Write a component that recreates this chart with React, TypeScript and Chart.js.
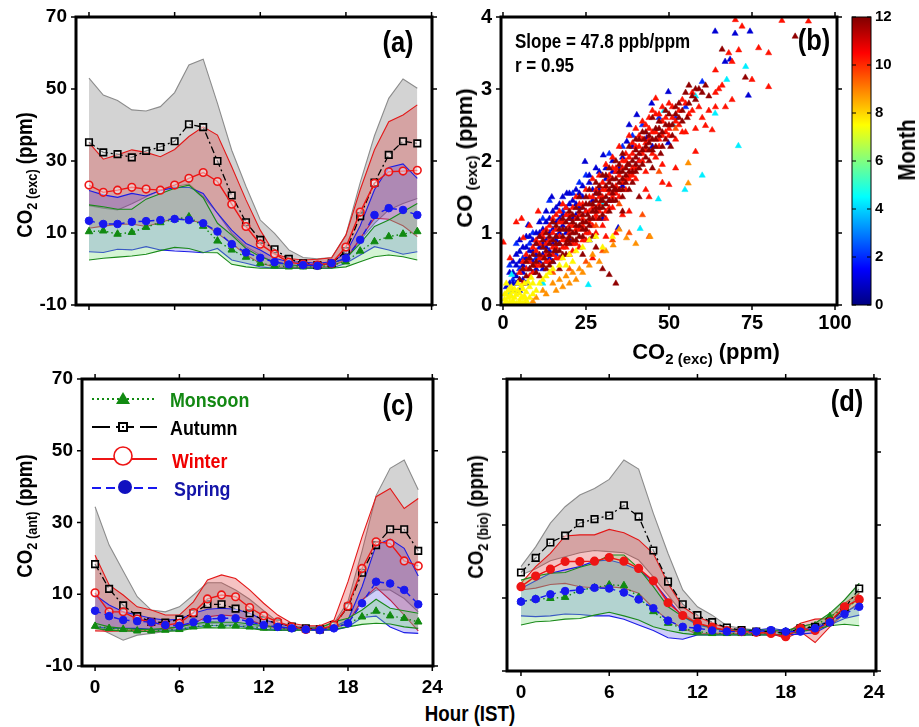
import React, { useEffect, useRef } from "react";
import { Chart, registerables } from "chart.js";
Chart.register(...registerables);

const FONT = "'Liberation Sans', Arial, sans-serif";

// ---------- shared axes ----------
const HOURS = [0,1,2,3,4,5,6,7,8,9,10,11,12,13,14,15,16,17,18,19,20,21,22,23];
const HOUR_TICKS = [0, 6, 12, 18, 24];
const PPM_TICKS = [-10, 10, 30, 50, 70];
const CO2_TICKS = [0, 25, 50, 75, 100];
const CO_TICKS = [0, 1, 2, 3, 4];
const MONTH_TICKS = [0, 2, 4, 6, 8, 10, 12];

// ---------- panel (a) CO2(exc) ----------
const A_AUT_MEAN = [35.2,32.4,31.9,31.0,32.8,33.9,35.5,40.2,39.4,30.0,20.4,13.0,8.1,5.5,2.8,1.6,1.1,1.6,5.0,14.7,24.0,31.7,35.5,34.9];
const A_AUT_HI = [53.0,48.3,46.8,44.2,43.9,45.1,49.0,56.7,58.3,46.0,33.0,22.9,13.6,9.9,5.3,3.2,2.8,3.2,9.5,24.0,37.0,47.4,52.8,50.2];
const A_AUT_LO = [17.6,16.9,16.4,18.1,20.1,21.9,22.9,23.6,20.1,15.5,9.9,6.2,3.9,1.6,0.6,0.5,0.5,0.8,2.5,8.0,12.7,16.4,18.2,19.6];
const A_WIN_MEAN = [23.3,21.3,21.9,22.7,22.2,21.9,23.3,25.2,26.8,24.3,18.0,11.8,6.9,4.2,1.9,1.3,1.1,1.6,6.1,15.8,23.8,27.0,27.2,27.4];
const A_WIN_HI = [35.1,30.5,31.7,33.1,32.4,31.2,33.2,36.8,39.5,37.2,28.4,19.2,10.8,4.3,2.9,2.5,2.7,3.1,9.4,22.0,33.1,40.9,42.8,45.6];
const A_WIN_LO = [11.3,11.9,12.4,12.5,11.8,12.9,14.1,13.6,12.7,9.9,7.1,3.9,1.6,0.6,0.4,0.4,0.4,0.6,2.7,8.5,14.1,13.8,12.0,9.0];
const A_SPR_MEAN = [13.4,12.5,12.5,13.1,13.3,13.6,13.9,13.6,12.7,10.4,6.9,4.6,3.1,1.9,1.3,1.1,0.9,1.6,3.0,8.1,15.0,16.9,16.4,15.0];
const A_SPR_HI = [21.8,20.6,19.9,21.0,20.3,21.8,22.6,22.7,21.0,15.5,10.8,7.1,5.3,3.0,2.0,1.9,1.6,2.0,4.4,12.0,22.0,28.2,29.2,25.2];
const A_SPR_LO = [4.8,4.6,5.5,5.3,6.2,5.3,5.0,4.8,4.5,5.7,2.5,1.6,0.6,0.2,0.2,0.2,0.2,0.2,1.6,3.9,6.2,5.3,4.1,4.8];
const A_MON_MEAN = [10.4,10.6,9.7,10.2,11.6,12.9,13.8,14.5,11.9,7.8,5.3,3.3,1.6,0.9,0.6,0.6,0.6,1.1,2.0,5.0,7.6,9.0,9.7,10.4];
const A_MON_HI = [17.8,17.3,16.6,16.6,19.4,20.9,22.4,23.3,19.8,12.7,9.4,5.7,3.4,2.0,1.1,0.9,0.9,1.6,3.0,7.1,11.8,13.6,15.9,18.2];
const A_MON_LO = [2.5,3.0,3.3,3.6,4.1,5.1,6.0,5.7,4.6,4.5,1.3,0.6,0.2,0.2,0.2,0.2,0.2,0.2,0.6,2.0,3.4,3.9,3.4,2.5];

// ---------- panel (c) CO2(ant) ----------
const C_AUT_MEAN = [18.4,11.5,6.9,3.9,2.3,2.1,3.0,4.7,7.2,7.2,6.0,4.7,2.8,1.9,1.0,0.5,0.2,1.4,6.5,16.0,23.7,28.1,28.1,22.1];
const C_AUT_HI = [34.4,23.7,16.5,9.3,5.6,5.1,6.5,9.8,13.2,13.2,11.2,8.6,5.4,2.3,1.2,0.9,0.9,1.9,8.0,22.0,37.5,45.1,47.4,39.1];
const C_AUT_LO = [1.0,-0.9,-2.8,-1.4,-0.9,-0.4,0.0,1.4,1.9,1.7,1.6,1.2,0.9,0.3,0.3,0.3,0.3,0.9,1.9,8.4,11.2,11.2,8.8,5.1];
const C_WIN_MEAN = [10.4,5.1,5.1,3.1,2.2,1.4,1.9,4.9,8.7,9.8,9.3,6.3,4.0,2.3,0.9,0.2,0.2,1.4,6.7,17.2,24.6,24.2,19.3,17.9];
const C_WIN_HI = [20.9,12.6,9.8,6.5,5.6,4.2,4.2,7.9,14.0,15.4,14.4,11.2,7.5,4.2,1.9,1.2,1.2,2.8,13.5,26.0,37.2,39.5,33.9,36.7];
const C_WIN_LO = [-0.2,-0.3,-0.2,0.0,0.0,0.2,0.9,1.9,3.7,4.2,3.9,2.8,1.4,0.5,0.3,0.3,0.3,0.5,1.9,8.4,11.9,8.4,4.2,-0.2];
const C_SPR_MEAN = [5.4,3.9,2.8,2.5,2.2,1.4,1.2,2.2,3.1,3.3,3.3,2.3,1.4,0.9,0.5,0.2,0.0,0.5,1.9,7.5,13.5,13.0,11.2,7.2];
const C_SPR_HI = [9.8,7.0,5.1,4.2,3.3,2.8,3.0,4.7,5.8,6.1,5.8,4.7,2.8,1.9,0.9,0.5,0.5,0.9,2.8,12.1,23.7,25.4,22.8,15.1];
const C_SPR_LO = [0.9,0.5,0.5,0.5,0.2,0.0,0.0,0.9,1.2,1.2,1.2,0.7,0.2,0.0,0.0,0.0,0.0,0.0,0.9,3.5,3.9,0.9,-0.7,-0.9];
const C_MON_MEAN = [1.1,0.5,0.2,-0.2,-0.2,0.0,0.2,0.9,1.4,1.2,1.2,0.9,0.6,0.5,0.3,0.3,0.3,0.9,1.9,3.7,5.3,4.0,3.3,2.3];
const C_MON_HI = [1.9,0.9,0.5,0.2,0.2,0.5,0.9,1.7,2.3,2.2,2.2,1.7,1.2,0.9,0.6,0.6,0.6,2.3,3.3,5.6,8.6,6.1,5.4,4.7];
const C_MON_LO = [0.5,0.0,-0.2,-0.4,-0.4,-0.3,-0.2,0.5,0.7,0.6,0.6,0.5,0.0,0.0,0.0,0.0,0.0,0.2,0.9,1.6,1.9,1.7,0.9,0.5];

// ---------- panel (d) CO2(bio) ----------
const D_AUT_MEAN = [17.0,21.0,25.2,27.1,30.5,31.6,32.6,35.4,32.3,23.0,14.5,8.3,5.3,3.4,1.9,1.2,0.8,0.8,0.3,1.7,2.1,3.5,7.2,12.6];
const D_AUT_HI = [18.6,24.0,30.5,35.0,38.2,40.0,42.5,47.8,45.3,33.2,22.2,12.2,7.6,5.3,2.4,1.7,1.2,1.1,0.8,2.1,3.1,5.3,9.5,14.0];
const D_AUT_LO = [16.3,18.0,20.2,21.3,22.4,23.0,22.7,22.4,20.4,15.8,10.8,5.8,3.1,1.7,1.0,0.9,0.8,0.8,0.8,1.1,1.2,2.6,5.8,11.3];
const D_WIN_MEAN = [13.1,16.0,17.9,20.0,20.0,20.1,21.1,20.1,18.1,14.7,8.7,5.2,3.1,2.0,1.1,0.8,0.6,0.3,-0.6,1.7,1.1,3.5,7.6,9.6];
const D_WIN_HI = [14.0,18.6,22.2,27.0,27.3,27.3,28.8,27.9,25.9,22.2,14.0,7.6,4.9,3.1,1.7,1.1,1.1,1.1,0.3,3.1,4.2,4.4,8.5,11.3];
const D_WIN_LO = [12.2,12.7,13.7,14.0,13.1,12.8,13.1,12.7,11.3,7.2,4.0,1.7,0.1,0.3,0.3,0.3,0.3,0.3,-1.1,0.8,-2.2,2.1,5.8,8.7];
const D_SPR_MEAN = [9.0,9.7,11.0,11.9,12.2,12.8,12.6,11.5,9.6,7.2,3.8,2.1,1.7,1.1,0.8,0.8,0.8,1.2,0.8,0.8,1.7,3.3,5.6,7.6];
const D_SPR_HI = [12.6,14.7,16.8,17.7,18.6,20.1,20.4,19.3,17.7,14.5,9.5,4.9,2.6,1.7,1.2,1.2,1.2,1.7,1.1,1.2,2.1,3.9,6.0,8.2];
const D_SPR_LO = [5.1,4.9,5.1,5.6,5.5,5.1,5.1,4.2,2.6,1.1,-0.9,-1.3,-0.1,-0.1,-0.1,-0.1,-0.1,-0.1,-0.1,0.1,0.5,2.6,4.4,5.3];
const D_MON_MEAN = [9.0,9.7,9.9,10.2,12.2,12.8,13.6,13.4,10.2,6.3,3.1,1.7,0.8,0.3,0.3,0.3,0.3,0.3,0.8,1.9,2.4,4.9,7.2,9.5];
const D_MON_HI = [14.9,16.0,16.8,17.0,18.4,19.5,21.8,21.8,18.1,13.1,7.6,4.9,3.1,1.7,1.2,1.2,1.2,1.2,1.1,2.1,3.1,5.8,9.5,14.0];
const D_MON_LO = [2.6,3.5,3.7,4.2,4.4,5.3,6.1,5.1,4.0,2.1,1.1,0.3,-0.1,-0.1,-0.1,-0.1,-0.1,-0.1,0.1,0.8,1.4,2.4,2.8,2.4];

// ---------- panel (b) CO(exc) vs CO2(exc), by month: [CO2 ppm, CO ppm] ----------
const SCATTER_M12 = [[8,0.5],[10,0.6],[12,0.55],[12,0.8],[14,0.7],[14,0.95],[15,0.6],[16,0.85],[16,1.1],[17,0.75],[18,0.95],[18,1.2],[19,0.7],[19,1.05],[20,0.85],[20,1.3],[21,1.0],[21,1.15],[22,0.9],[22,1.35],[23,1.1],[23,1.5],[24,0.95],[24,1.25],[25,1.4],[25,1.05],[26,1.2],[26,1.6],[27,1.3],[27,0.95],[28,1.45],[28,1.7],[29,1.2],[29,1.55],[30,1.35],[30,1.8],[31,1.5],[31,1.65],[32,1.3],[32,1.9],[33,1.55],[33,1.75],[34,1.45],[34,2.0],[35,1.7],[35,1.85],[36,1.6],[36,2.1],[37,1.8],[38,1.95],[38,2.2],[39,1.7],[40,2.05],[40,2.3],[41,1.9],[42,2.15],[43,2.4],[44,2.0],[44,2.25],[45,2.6],[46,2.3],[47,2.45],[48,2.2],[49,2.7],[50,2.5],[51,2.35],[52,2.65],[53,2.8],[54,2.55],[55,2.95],[56,3.05],[58,2.85],[59,3.0],[62,2.9],[10,0.85],[13,1.0],[9,0.7],[11,0.4],[34,0.3],[32,0.42],[30,0.5],[66,3.55],[73,3.16],[88,3.73],[58,3.0],[28,0.8],[36,1.3],[41,1.5],[17,0.5],[24,0.7],[45,1.9],[19.5,0.9],[22.5,1.2],[25.5,1.25],[29.5,1.45],[33.5,1.6],[37.5,1.95],[42.5,2.3],[47.5,2.1],[15.5,0.75],[12.5,0.65],[50.5,2.2],[55.5,2.6],
  [5,0.35],[6,0.5],[7,0.4],[7,0.6],[8,0.65],[9,0.55],[10,0.45],[11,0.7],[11,0.95],[12,0.9],[13,0.75],[13,0.5],[14,0.85],[14,0.55],[15,0.9],[15,1.15],[16,0.95],[16,0.75],[17,1.05],[17,0.85],[18,1.05],[18,0.7],[19,1.15],[19,0.85],[20,1.2],[20,0.95],[21,1.25],[21,0.9],[22,1.1],[22,1.0],[23,1.3],[23,0.95],[24,1.35],[24,1.05],[25,1.15],[25,1.5],[26,1.4],[26,1.1],[27,1.4],[27,1.2],[28,1.3],[28,1.55],[29,1.35],[29,1.65],[30,1.45],[30,1.25],[31,1.4],[31,1.8],[32,1.6],[32,1.45],[33,1.65],[33,1.45],[34,1.75],[34,1.6],[35,1.6],[35,1.95],[36,1.75],[36,1.5],[37,1.7],[37,1.9],[38,1.85],[38,1.6],[39,2.0],[39,1.85],[40,1.95],[40,2.15],[41,2.1],[41,2.3],[42,1.95],[42,2.4],[43,2.05],[43,2.2],[44,2.35],[45,2.3],[45,2.15],[46,2.45],[46,2.2],[47,2.55],[47,2.35],[48,2.4],[49,2.5],[49,2.3],[50,2.65],[51,2.5],[52,2.75],[53,2.6],[54,2.7],[56,2.8],[57,2.9],[60,2.95],[61,3.05],[20,1.05],[24,1.15],[28,1.35],[32,1.7],[36,1.85],[40,1.85],[44,2.15]];
const SCATTER_M11 = [[6,0.3],[7,0.5],[9,0.45],[10,0.75],[11,0.65],[12,0.95],[13,0.6],[13,0.85],[14,1.1],[15,0.8],[15,1.0],[16,0.65],[16,1.25],[17,0.95],[17,1.15],[18,0.8],[18,1.4],[19,0.9],[19,1.25],[20,1.1],[20,0.7],[21,1.35],[21,0.85],[22,1.05],[22,1.5],[23,1.25],[23,0.8],[24,1.4],[24,1.1],[25,1.6],[25,0.9],[26,1.3],[26,1.0],[27,1.5],[27,1.75],[28,1.2],[28,1.0],[29,1.4],[29,1.8],[30,1.6],[30,1.1],[31,1.3],[31,1.95],[32,1.55],[32,1.75],[33,1.35],[33,2.05],[34,1.65],[34,1.85],[35,1.5],[35,2.2],[36,1.9],[37,2.0],[37,1.6],[38,2.35],[38,1.75],[39,2.1],[39,1.9],[40,2.45],[40,1.75],[41,2.2],[42,2.0],[42,2.55],[43,1.85],[43,2.25],[44,2.45],[45,2.1],[46,2.65],[46,2.05],[47,2.3],[48,2.55],[48,1.95],[49,2.4],[50,2.8],[51,2.6],[52,2.3],[53,2.5],[54,2.85],[55,2.4],[57,2.7],[58,2.45],[60,2.6],[63,2.43],[61,2.49],[64,2.75],[67,2.75],[69,2.85],[70,3.96],[72,3.87],[84,3.95],[92,3.94],[80,3.5],[77,3.57],[80,3.03],[75,3.13],[71,3.54],[68,3.5],[69,3.38],[64,3.26],[65,3.0],[5.6,1.2],[6.1,0.93],[2.1,0.65],[10.6,1.3],[0.1,0.87],[4,1.15],[8,1.1],[46,2.87],[58,2.13],[50,1.67],[43,1.6],[34,1.0],[27,0.65],[38,1.3],[44,1.5],[52,1.9],[48,1.7],[36,1.25],[31,0.95],
  [5,0.45],[6,0.6],[7,0.7],[8,0.6],[8,0.4],[9,0.8],[9,0.55],[10,0.55],[10,0.9],[11,0.55],[11,0.85],[12,0.65],[12,1.0],[13,0.7],[13,1.05],[14,0.6],[14,0.9],[15,0.7],[15,1.2],[16,0.8],[16,1.05],[17,0.65],[17,1.3],[18,0.9],[18,1.15],[19,0.8],[19,1.35],[20,1.0],[20,1.25],[21,1.1],[21,0.75],[22,1.2],[22,0.85],[23,1.4],[23,1.05],[24,1.2],[24,0.9],[25,1.3],[25,1.0],[26,1.5],[26,1.15],[27,1.35],[27,1.1],[28,1.6],[28,1.25],[29,1.5],[29,1.3],[30,1.5],[30,1.7],[31,1.6],[31,1.2],[32,1.35],[32,1.8],[33,1.9],[33,1.5],[34,1.55],[34,1.9],[35,1.8],[35,1.6],[36,2.0],[36,1.7],[37,2.1],[37,1.75],[38,2.05],[38,1.8],[39,2.25],[39,1.8],[40,1.9],[40,2.2],[41,2.35],[41,2.0],[42,2.3],[42,2.1],[43,2.5],[43,2.15],[44,2.3],[44,2.6],[45,2.4],[45,2.7],[46,2.4],[47,2.65],[47,2.2],[48,2.35],[48,2.75],[49,2.6],[50,2.35],[50,2.45],[51,2.75],[52,2.55],[53,2.7],[54,2.4],[55,2.8],[56,2.65],[57,2.95],[59,2.75],[62,2.7],[64,2.95],[66,3.05]];
const SCATTER_M10 = [[20,0.5],[25,0.6],[30,0.75],[38,1.0],[42,1.25],[35,1.4],[33,0.9],[44,0.95],[15,0.45],[47,1.85],[28,1.1],[52,2.45]];
const SCATTER_M9 = [[55.8,1.69],[55.8,1.97],[10,0.1],[12,0.2],[13,0.15],[15,0.3],[16,0.2],[17,0.35],[18,0.25],[19,0.4],[20,0.3],[21,0.45],[22,0.35],[23,0.5],[24,0.45],[26,0.55],[27,0.7],[29,0.6],[31,0.75],[33.2,0.83],[37.2,0.93],[44.3,0.95],[40,0.85],[35,1.05],[7,0.05],[9,0.05]];
const SCATTER_M7 = [[0.5,0.02],[1,0.05],[1.5,0.1],[2,0.04],[2.5,0.12],[3,0.06],[3,0.18],[3.5,0.1],[4,0.02],[4,0.14],[4.5,0.2],[5,0.06],[5,0.16],[5.5,0.1],[6,0.03],[6,0.22],[6.5,0.12],[7,0.06],[7,0.18],[8,0.1],[8,0.25],[9,0.15],[9,0.3],[10,0.2],[1,0.15],[2,0.22],[11,0.3],[12,0.35],[13,0.4],[14,0.45],[15,0.5],[17,0.55],[18,0.65],[19,0.55],[20,0.7],[21,0.6],[22,0.75],[24,0.8],[26,0.9],[28,0.95],[30,0.8],[33,0.95],
  [0.5,0.08],[1.5,0.2],[2.5,0.25],[3.5,0.22],[4.5,0.3],[5.5,0.26],[6.5,0.3],[7.5,0.32],[8.5,0.38],[1,0.3],[0.5,0.15],[2,0.12],[3,0.02],[5,0.02],[6,0.1],[7.5,0.02]];
const SCATTER_M1 = [[2,0.3],[3,0.45],[4,0.55],[4,0.3],[5,0.6],[5,0.74],[6,0.45],[6,0.8],[7,0.65],[7,0.95],[7.6,1.11],[8,0.75],[8,0.5],[9,0.9],[9,0.6],[10,1.0],[10,0.5],[11,0.8],[11,1.15],[12,0.7],[12,1.05],[13,0.9],[13,1.3],[14,0.75],[14,1.2],[14.7,1.5],[15,1.05],[16,0.95],[16,1.35],[17,1.2],[17,0.85],[18,1.1],[18,1.5],[19.2,1.55],[19,1.0],[20,1.4],[21,1.2],[22,1.6],[22,1.25],[23,1.35],[24,1.5],[24.7,1.99],[25,1.3],[26,1.7],[27,1.45],[28,1.9],[29,1.6],[30.2,2.08],[31,1.75],[33,2.0],[34.7,1.07],[35,1.9],[37.3,2.27],[38,2.5],[40.3,2.64],[43.3,2.32],[44.8,2.8],[49.8,2.96],[49.8,2.25],[63.9,3.8],[69.9,3.77],[74.4,3.8],[66.9,3.38],[68.4,3.41],[73.9,2.91],[30,1.2],[26,0.9],[20,0.9],[15,0.6],[3,0.2],[5,0.2],[7,0.3],[45,2.2],[41,2.0],[36,1.65],[32,1.45],
  [3,0.6],[4,0.7],[4,0.4],[5,0.35],[5,0.9],[6,0.55],[6,0.35],[7,0.5],[7,0.8],[8,0.65],[8,0.95],[9,0.45],[9,0.75],[10,0.7],[10,0.85],[11,0.6],[11,1.0],[12,0.85],[12,0.5],[13,1.15],[13,0.8],[14,1.0],[14,0.65],[15,1.3],[15,0.85],[16,1.15],[16,0.9],[17,1.4],[17,1.0],[18,1.25],[19,1.35],[20,1.55],[21,1.45],[22,1.4],[23,1.55],[24,1.65],[26,1.8],[27,1.6],[29,1.85],[31,1.9],[33,1.85],[36,2.05],[39,2.2],[2,0.45],[3,0.3],[1,0.25]];
const SCATTER_M2 = [[3,0.35],[5,0.5],[6,0.65],[8,0.85],[9,1.0],[10,0.65],[11,0.95],[12,1.2],[13,0.6],[15,1.15],[16,0.7],[18,1.3],[20,1.2],[21,1.55],[23,1.7],[25,1.8],[28,1.55],[32,2.1],[36,2.2],[42,2.5],[47,2.6],[52,2.6],[55,2.75],[60,3.1],[2,0.55],[4,0.85],[14,1.45],[39,2.35]];
const SCATTER_M4 = [[70.9,2.21],[46.8,1.47],[54.8,1.6],[60,1.8],[63.9,2.66],[73.1,3.31],[67.4,3.13],[41.3,1.06],[25.7,0.28],[2.6,0.42],[48.5,2.7],[51.3,2.5],[58,2.9],[30,1.4],[12,0.3],[2,0.15]];
const SCATTER_GROUPS = [SCATTER_M2, SCATTER_M1, SCATTER_M4, SCATTER_M11, SCATTER_M12, SCATTER_M10, SCATTER_M9, SCATTER_M7];
const SCATTER_MONTHS = [2, 1, 4.3, 10.3, 11.8, 9.6, 8.8, 7.6];

// ---------- styling helpers ----------
const COL = { mon: "#118a11", aut: "#000000", win: "#ee1515", spr: "#1818f0" };
const BAND: Record<string, { line: string; fill: string }> = {
  aut: { line: "#8c8c8c", fill: "rgba(150,150,150,0.42)" },
  win: { line: "#e31818", fill: "rgba(220,40,40,0.28)" },
  spr: { line: "#1c1ce6", fill: "rgba(60,60,230,0.25)" },
  mon: { line: "#1a8a1a", fill: "rgba(120,220,120,0.32)" },
};

const pts = (vals: number[]) => vals.map((v, i) => ({ x: HOURS[i], y: v }));

function jet(m: number): string {
  const t = m / 12;
  const c = (v: number) => Math.round(255 * Math.max(0, Math.min(1, v)));
  return `rgb(${c(1.5 - Math.abs(4 * t - 3))},${c(1.5 - Math.abs(4 * t - 2))},${c(1.5 - Math.abs(4 * t - 1))})`;
}

const tickFont = (size: number) => ({ family: FONT, size, weight: "bold" as const });

function fixScale(dim: "width" | "height", v: number) {
  return (s: any) => {
    s[dim] = v;
    s.paddingLeft = 0; s.paddingRight = 0; s.paddingTop = 0; s.paddingBottom = 0;
  };
}
const setTicks = (vals: number[]) => (s: any) => { s.ticks = vals.map((v) => ({ value: v })); };

const frameTicksPlugin = {
  id: "frameTicks",
  afterDraw(chart: any) {
    const { ctx, chartArea } = chart;
    const { left, right, top, bottom } = chartArea;
    const xs = chart.scales.x, ys = chart.scales.y;
    ctx.save();
    ctx.strokeStyle = "#000";
    ctx.lineWidth = 1.5;
    ctx.beginPath();
    xs.ticks.forEach((t: any) => {
      const px = xs.getPixelForValue(t.value);
      ctx.moveTo(px, bottom); ctx.lineTo(px, bottom + 5);
      ctx.moveTo(px, top); ctx.lineTo(px, top - 5);
    });
    ys.ticks.forEach((t: any) => {
      const py = ys.getPixelForValue(t.value);
      ctx.moveTo(left, py); ctx.lineTo(left - 5, py);
      ctx.moveTo(right, py); ctx.lineTo(right + 5, py);
    });
    ctx.stroke();
    ctx.lineWidth = 3;
    ctx.strokeRect(left, top, right - left, bottom - top);
    ctx.restore();
  },
};

const colorbarPlugin = {
  id: "colorbar",
  afterDraw(chart: any) {
    const cb = chart.scales.cb;
    const { ctx } = chart;
    const x0 = cb.left + 15, w = 19;
    const yTop = cb.getPixelForValue(12), yBot = cb.getPixelForValue(0);
    const g = ctx.createLinearGradient(0, yBot, 0, yTop);
    for (let i = 0; i <= 24; i++) g.addColorStop(i / 24, jet((i / 24) * 12));
    ctx.save();
    ctx.fillStyle = g;
    ctx.fillRect(x0, yTop, w, yBot - yTop);
    ctx.strokeStyle = "#000";
    ctx.lineWidth = 1;
    ctx.strokeRect(x0, yTop, w, yBot - yTop);
    ctx.beginPath();
    cb.ticks.forEach((t: any) => {
      const py = cb.getPixelForValue(t.value);
      ctx.moveTo(x0 + w - 4, py); ctx.lineTo(x0 + w, py);
      ctx.moveTo(x0, py); ctx.lineTo(x0 + 4, py);
    });
    ctx.stroke();
    ctx.restore();
  },
};

const legendPlugin = {
  id: "seasonLegend",
  afterDraw(chart: any) {
    const { ctx } = chart;
    const x0 = 92, x1 = 157, xm = 123;
    ctx.save();
    let y = 39;
    ctx.strokeStyle = COL.mon; ctx.lineWidth = 2.2; ctx.setLineDash([2, 3]);
    ctx.beginPath(); ctx.moveTo(x0, y); ctx.lineTo(x1, y); ctx.stroke();
    ctx.setLineDash([]); ctx.fillStyle = COL.mon;
    ctx.beginPath(); ctx.moveTo(xm, y - 7); ctx.lineTo(xm - 7, y + 5); ctx.lineTo(xm + 7, y + 5); ctx.closePath(); ctx.fill();
    y = 67;
    ctx.strokeStyle = "#000"; ctx.lineWidth = 2.2; ctx.setLineDash([18, 6]);
    ctx.beginPath(); ctx.moveTo(x0, y); ctx.lineTo(x1, y); ctx.stroke();
    ctx.setLineDash([]); ctx.fillStyle = "#fff";
    ctx.fillRect(xm - 5, y - 5, 10, 10);
    ctx.lineWidth = 2; ctx.strokeRect(xm - 4, y - 4, 8, 8);
    ctx.fillStyle = "#000"; ctx.fillRect(xm - 1, y - 1, 2, 2);
    y = 99;
    ctx.strokeStyle = COL.win; ctx.lineWidth = 2.2;
    ctx.beginPath(); ctx.moveTo(x0, y); ctx.lineTo(x1, y); ctx.stroke();
    ctx.fillStyle = "#fff"; ctx.lineWidth = 1.6;
    ctx.beginPath(); ctx.arc(xm, y - 3, 9, 0, Math.PI * 2); ctx.fill(); ctx.stroke();
    y = 128;
    ctx.strokeStyle = COL.spr; ctx.lineWidth = 2.2; ctx.setLineDash([9, 5]);
    ctx.beginPath(); ctx.moveTo(x0, y); ctx.lineTo(x1, y); ctx.stroke();
    ctx.setLineDash([]); ctx.fillStyle = "#1010c0";
    ctx.beginPath(); ctx.arc(xm + 2, y - 1, 7, 0, Math.PI * 2); ctx.fill();
    ctx.restore();
  },
};

type Season = { hi: number[]; lo: number[]; mean: number[] };

function seasonDatasets(s: { aut: Season; win: Season; spr: Season; mon: Season }, winFilled: boolean) {
  const ds: any[] = [];
  const band = (d: Season, key: string, order: number) => {
    ds.push({ data: pts(d.hi), borderColor: BAND[key].line, borderWidth: 1.1, backgroundColor: BAND[key].fill, fill: "+1", pointRadius: 0, order });
    ds.push({ data: pts(d.lo), borderColor: BAND[key].line, borderWidth: 1.1, fill: false, pointRadius: 0, order: order - 1 });
  };
  band(s.aut, "aut", 40);
  band(s.win, "win", 30);
  band(s.spr, "spr", 20);
  band(s.mon, "mon", 10);
  ds.push({ data: pts(s.mon.mean), borderColor: COL.mon, borderWidth: 1.4, borderDash: [1.5, 3], fill: false, pointStyle: "triangle", pointRadius: 4.3, pointBackgroundColor: COL.mon, pointBorderColor: COL.mon, pointBorderWidth: 1, order: 3 });
  ds.push({ data: pts(s.aut.mean), borderColor: "#000", borderWidth: 1.3, borderDash: [7, 3, 2, 3], fill: false, pointStyle: "rect", pointRadius: 4.6, pointBackgroundColor: "rgba(255,255,255,0.5)", pointBorderColor: "#000", pointBorderWidth: 1.6, order: 2 });
  ds.push({ data: pts(s.win.mean), borderColor: COL.win, borderWidth: 1.4, fill: false, pointStyle: "circle", pointRadius: 3.8, pointBackgroundColor: winFilled ? COL.win : "rgba(255,255,255,0.45)", pointBorderColor: COL.win, pointBorderWidth: 1.6, order: 1 });
  ds.push({ data: pts(s.spr.mean), borderColor: COL.spr, borderWidth: 1.4, borderDash: [6, 4], fill: false, pointStyle: "circle", pointRadius: 3.8, pointBackgroundColor: COL.spr, pointBorderColor: COL.spr, pointBorderWidth: 1, order: 0 });
  return ds;
}

function lineConfig(opts: {
  datasets: any[]; xmin: number; xmax: number; yWidth: number; xHeight: number;
  padTop: number; padRight: number; showX: boolean; showY: boolean; extraPlugins?: any[];
}) {
  return {
    type: "line" as const,
    data: { datasets: opts.datasets },
    options: {
      animation: false as const,
      responsive: false,
      devicePixelRatio: 1,
      layout: { padding: { top: opts.padTop, right: opts.padRight, left: 0, bottom: 0 } },
      plugins: { legend: { display: false }, tooltip: { enabled: false }, filler: { drawTime: "beforeDatasetDraw" } },
      elements: { line: { tension: 0 } },
      scales: {
        x: {
          type: "linear", min: opts.xmin, max: opts.xmax,
          afterBuildTicks: setTicks(HOUR_TICKS),
          afterFit: fixScale("height", opts.xHeight),
          grid: { display: false, drawTicks: false }, border: { display: false },
          ticks: { display: opts.showX, font: tickFont(19), color: "#000", padding: 10, maxRotation: 0, autoSkip: false },
        },
        y: {
          type: "linear", min: -10, max: 70,
          afterBuildTicks: setTicks(PPM_TICKS),
          afterFit: fixScale("width", opts.yWidth),
          grid: { display: false, drawTicks: false }, border: { display: false },
          ticks: { display: opts.showY, font: tickFont(19), color: "#000", padding: 9, autoSkip: false },
        },
      },
    },
    plugins: [frameTicksPlugin, ...(opts.extraPlugins || [])],
  };
}

function scatterConfig() {
  const datasets = SCATTER_GROUPS.map((g, i) => ({
    data: g.map(([x, y]) => ({ x, y })),
    pointStyle: "triangle",
    pointRadius: 3.6,
    pointBackgroundColor: jet(SCATTER_MONTHS[i]),
    pointBorderColor: jet(SCATTER_MONTHS[i]),
    pointBorderWidth: 0.5,
    order: SCATTER_GROUPS.length - i,
  }));
  return {
    type: "scatter" as const,
    data: { datasets },
    options: {
      animation: false as const,
      responsive: false,
      devicePixelRatio: 1,
      layout: { padding: { top: 17, right: 0, left: 0, bottom: 0 } },
      plugins: { legend: { display: false }, tooltip: { enabled: false } },
      scales: {
        x: {
          type: "linear", min: -0.6, max: 100.6,
          afterBuildTicks: setTicks(CO2_TICKS),
          afterFit: fixScale("height", 25),
          grid: { display: false, drawTicks: false }, border: { display: false },
          ticks: { font: tickFont(20), color: "#000", padding: 6, maxRotation: 0, autoSkip: false },
        },
        y: {
          type: "linear", min: 0, max: 4,
          afterBuildTicks: setTicks(CO_TICKS),
          afterFit: fixScale("width", 41),
          grid: { display: false, drawTicks: false }, border: { display: false },
          ticks: { font: tickFont(20), color: "#000", padding: 9, autoSkip: false },
        },
        cb: {
          type: "linear", position: "right", min: 0, max: 12,
          afterBuildTicks: setTicks(MONTH_TICKS),
          afterFit: fixScale("width", 82),
          grid: { display: false, drawTicks: false }, border: { display: false },
          ticks: { font: tickFont(15), color: "#000", padding: 38, autoSkip: false },
        },
      },
    },
    plugins: [frameTicksPlugin, colorbarPlugin],
  };
}

const sub = (t: string, size: number) => (
  <span style={{ fontSize: size, position: "relative", top: "0.3em" }}>{t}</span>
);

function Label(props: { x: number; y: number; rot?: boolean; size: number; color?: string; left?: boolean; sx?: number; children: any }) {
  const { x, y, rot, size, color, left, children } = props;
  const sx = props.sx ?? 0.85;
  return (
    <div
      style={{
        position: "absolute", left: x, top: y,
        transformOrigin: left ? "left center" : "center center",
        transform: left
          ? `translate(0,-50%) scaleX(${sx})`
          : `translate(-50%,-50%)${rot ? " rotate(-90deg)" : ""} scaleX(${sx})`,
        whiteSpace: "nowrap", fontFamily: FONT, fontWeight: "bold", fontSize: size,
        lineHeight: 1, color: color || "#000",
      }}
    >
      {children}
    </div>
  );
}

export default function App() {
  const refA = useRef<HTMLCanvasElement>(null);
  const refB = useRef<HTMLCanvasElement>(null);
  const refC = useRef<HTMLCanvasElement>(null);
  const refD = useRef<HTMLCanvasElement>(null);

  useEffect(() => {
    const charts: Chart[] = [];
    const a = seasonDatasets({
      aut: { hi: A_AUT_HI, lo: A_AUT_LO, mean: A_AUT_MEAN },
      win: { hi: A_WIN_HI, lo: A_WIN_LO, mean: A_WIN_MEAN },
      spr: { hi: A_SPR_HI, lo: A_SPR_LO, mean: A_SPR_MEAN },
      mon: { hi: A_MON_HI, lo: A_MON_LO, mean: A_MON_MEAN },
    }, false);
    const c = seasonDatasets({
      aut: { hi: C_AUT_HI, lo: C_AUT_LO, mean: C_AUT_MEAN },
      win: { hi: C_WIN_HI, lo: C_WIN_LO, mean: C_WIN_MEAN },
      spr: { hi: C_SPR_HI, lo: C_SPR_LO, mean: C_SPR_MEAN },
      mon: { hi: C_MON_HI, lo: C_MON_LO, mean: C_MON_MEAN },
    }, false);
    const d = seasonDatasets({
      aut: { hi: D_AUT_HI, lo: D_AUT_LO, mean: D_AUT_MEAN },
      win: { hi: D_WIN_HI, lo: D_WIN_LO, mean: D_WIN_MEAN },
      spr: { hi: D_SPR_HI, lo: D_SPR_LO, mean: D_SPR_MEAN },
      mon: { hi: D_MON_HI, lo: D_MON_LO, mean: D_MON_MEAN },
    }, true);
    if (refA.current) charts.push(new Chart(refA.current, lineConfig({ datasets: a, xmin: -0.91, xmax: 24.03, yWidth: 76, xHeight: 25, padTop: 17, padRight: 28, showX: false, showY: true }) as any));
    if (refB.current) charts.push(new Chart(refB.current, scatterConfig() as any));
    if (refC.current) charts.push(new Chart(refC.current, lineConfig({ datasets: c, xmin: -0.93, xmax: 24.05, yWidth: 82, xHeight: 34, padTop: 19, padRight: 27, showX: true, showY: true, extraPlugins: [legendPlugin] }) as any));
    if (refD.current) charts.push(new Chart(refD.current, lineConfig({ datasets: d, xmin: -0.95, xmax: 24.14, yWidth: 47, xHeight: 29, padTop: 19, padRight: 43, showX: true, showY: false }) as any));
    return () => charts.forEach((ch) => ch.destroy());
  }, []);

  const cv = (left: number, top: number, w: number, h: number, ref: any) => (
    <canvas ref={ref} width={w} height={h} style={{ position: "absolute", left, top, width: w, height: h }} />
  );

  return (
    <div style={{ position: "absolute", left: 0, top: 0, width: 919, height: 727, background: "#fff", overflow: "hidden" }}>
      {cv(0, 0, 460, 330, refA)}
      {cv(460, 0, 459, 330, refB)}
      {cv(0, 360, 460, 340, refC)}
      {cv(460, 360, 459, 340, refD)}

      <Label x={25} y={175} rot size={22}>CO{sub("2", 15)}{sub(" (exc)", 15)} (ppm)</Label>
      <Label x={465} y={158} rot size={22} sx={1}>CO{sub(" (exc)", 15)} (ppm)</Label>
      <Label x={706} y={352} size={22} sx={1}>CO{sub("2", 15)}{sub(" (exc)", 15)} (ppm)</Label>
      <Label x={25} y={516} rot size={22}>CO{sub("2", 15)}{sub(" (ant)", 15)} (ppm)</Label>
      <Label x={476} y={517} rot size={22}>CO{sub("2", 15)}{sub(" (bio)", 15)} (ppm)</Label>
      <Label x={470} y={714} size={22}>Hour (IST)</Label>
      <Label x={907} y={150} rot size={24}>Month</Label>

      <Label x={398} y={42} size={30}>(a)</Label>
      <Label x={814} y={40} size={30}>(b)</Label>
      <Label x={398} y={405} size={30}>(c)</Label>
      <Label x={847} y={401} size={30}>(d)</Label>

      <Label x={515} y={41} left size={20}>Slope = 47.8 ppb/ppm</Label>
      <Label x={515} y={65} left size={20}>r = 0.95</Label>

      <Label x={170} y={399} left size={21} color="#138813">Monsoon</Label>
      <Label x={170} y={427} left size={21}>Autumn</Label>
      <Label x={172} y={460} left size={21} color="#f00000">Winter</Label>
      <Label x={174} y={488} left size={21} color="#1414a8">Spring</Label>
    </div>
  );
}
